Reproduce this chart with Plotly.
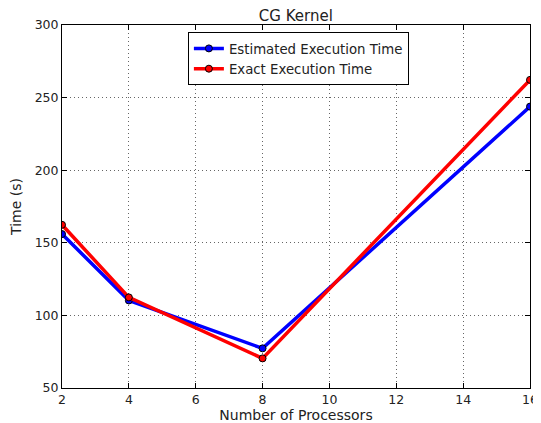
import plotly.graph_objects as go

processors = [2, 4, 8, 16]
estimated = [156, 110.3, 77.3, 243.8]
exact = [162.4, 112.4, 70.4, 262.2]
x_ticks = [2, 4, 6, 8, 10, 12, 14, 16]
y_ticks = [50, 100, 150, 200, 250, 300]

fig = go.Figure()
fig.add_trace(go.Scatter(
    x=processors, y=estimated, mode="lines+markers", name="Estimated Execution Time",
    line=dict(color="#0000ff", width=3.5),
    marker=dict(color="#0000ff", size=7, line=dict(color="black", width=1))))
fig.add_trace(go.Scatter(
    x=processors, y=exact, mode="lines+markers", name="Exact Execution Time",
    line=dict(color="#ff0000", width=3.5),
    marker=dict(color="#ff0000", size=7, line=dict(color="black", width=1))))

axis_common = dict(
    showline=True, linecolor="black", linewidth=1, mirror="ticks",
    ticks="inside", ticklen=5, tickcolor="black",
    showgrid=True, gridcolor="#666666", griddash="1px,3px", gridwidth=1,
    zeroline=False, automargin=False,
    tickfont=dict(family="DejaVu Sans", size=12.5, color="#222"),
)

fig.update_layout(
    width=533, height=415, autosize=False,
    margin=dict(l=54, r=11, t=17, b=35, pad=0, autoexpand=False),
    paper_bgcolor="white", plot_bgcolor="white",
    font=dict(family="DejaVu Sans", size=12, color="#222"),
    title=dict(text="CG Kernel", x=0.54, xanchor="center", y=0.994, yanchor="top",
               font=dict(family="DejaVu Sans", size=15, color="#222")),
    xaxis=dict(range=[2, 16], tickvals=x_ticks,
               title=dict(text="Number of Processors", font=dict(size=14), standoff=1),
               **axis_common),
    yaxis=dict(range=[50, 300], tickvals=y_ticks,
               title=dict(text="Time (s)", font=dict(size=14), standoff=12),
               **axis_common),
    legend=dict(x=0.269, y=0.98, xanchor="left", yanchor="top",
                bordercolor="black", borderwidth=1, bgcolor="white",
                font=dict(family="DejaVu Sans", size=13.3, color="#222"),
                tracegroupgap=0, itemwidth=30),
    showlegend=True,
)

fig.write_html("out.html")
